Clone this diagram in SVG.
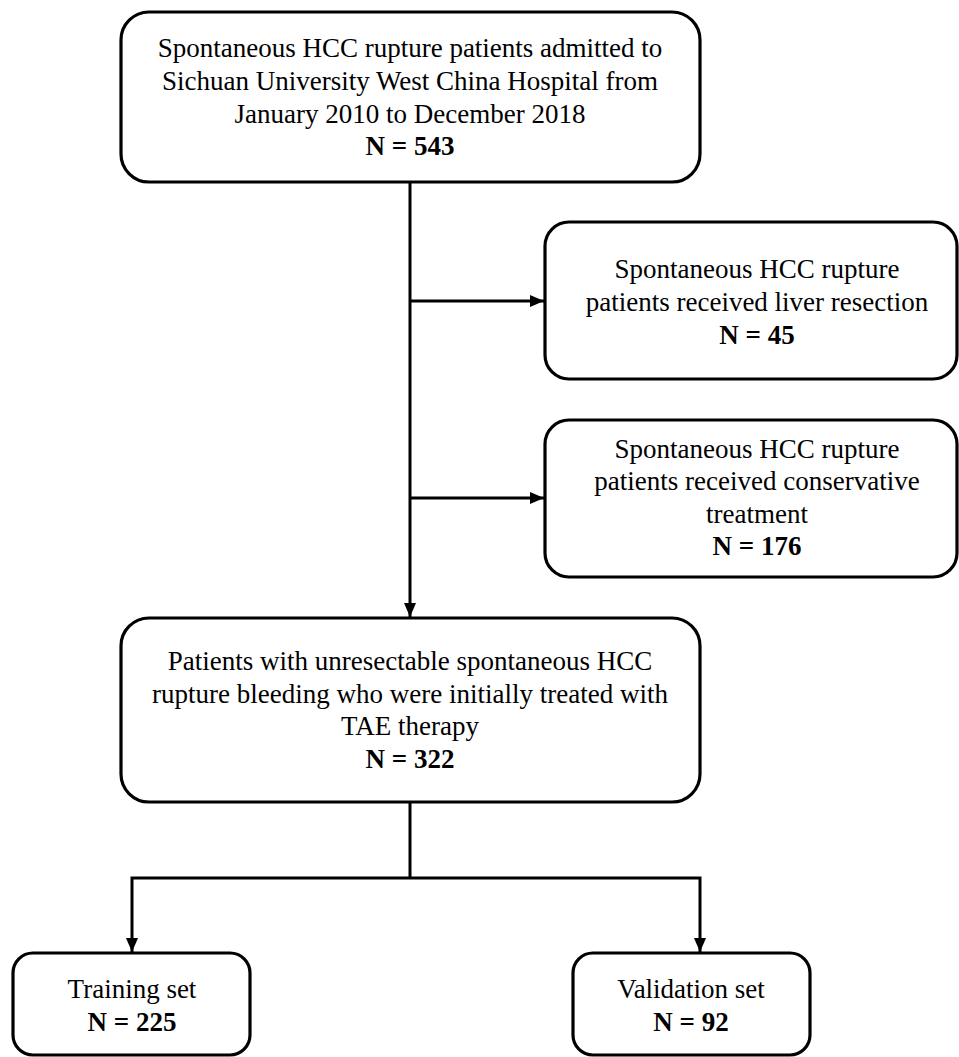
<svg xmlns="http://www.w3.org/2000/svg" width="959" height="1057" viewBox="0 0 959 1057">
<style>
.box{fill:#fff;stroke:#000;stroke-width:3.2}
.t{font-family:"Liberation Serif","Times New Roman",serif;font-size:27px;fill:#000;text-anchor:middle}
.b{font-weight:bold}
.ln{fill:none;stroke:#000;stroke-width:3}
</style>
<defs>
<marker id="ah" viewBox="0 0 14 12" refX="14" refY="6" markerWidth="14" markerHeight="12" markerUnits="userSpaceOnUse" orient="auto">
<path d="M0,0 L14,6 L0,12 Z" fill="#000"/>
</marker>
</defs>
<rect width="959" height="1057" fill="#fff"/>
<g id="connectors">
<line class="ln" x1="410" y1="182" x2="410" y2="617" marker-end="url(#ah)"/>
<line class="ln" x1="410" y1="301" x2="544" y2="301" marker-end="url(#ah)"/>
<line class="ln" x1="410" y1="498" x2="544" y2="498" marker-end="url(#ah)"/>
<line class="ln" x1="410" y1="802" x2="410" y2="878"/>
<polyline class="ln" points="410,878 132,878 132,952" marker-end="url(#ah)"/>
<polyline class="ln" points="410,878 700,878 700,952" marker-end="url(#ah)"/>
</g>
<g id="n1">
<rect class="box" x="121" y="12" width="579" height="170" rx="28"/>
<text class="t" x="410" y="57">Spontaneous HCC rupture patients admitted to</text>
<text class="t" x="410" y="90">Sichuan University West China Hospital from</text>
<text class="t" x="410" y="123">January 2010 to December 2018</text>
<text class="t b" x="410" y="155">N = 543</text>
</g>
<g id="n2">
<rect class="box" x="545" y="222" width="412" height="157" rx="24"/>
<text class="t" x="757" y="278">Spontaneous HCC rupture</text>
<text class="t" x="757" y="311">patients received liver resection</text>
<text class="t b" x="757" y="344">N = 45</text>
</g>
<g id="n3">
<rect class="box" x="545" y="420" width="412" height="157" rx="24"/>
<text class="t" x="757" y="458">Spontaneous HCC rupture</text>
<text class="t" x="757" y="490">patients received conservative</text>
<text class="t" x="757" y="523">treatment</text>
<text class="t b" x="757" y="555">N = 176</text>
</g>
<g id="n4">
<rect class="box" x="121" y="618" width="579" height="184" rx="28"/>
<text class="t" x="410" y="670">Patients with unresectable spontaneous HCC</text>
<text class="t" x="410" y="703">rupture bleeding who were initially treated with</text>
<text class="t" x="410" y="735">TAE therapy</text>
<text class="t b" x="410" y="768">N = 322</text>
</g>
<g id="n5">
<rect class="box" x="13" y="953" width="237" height="102" rx="20"/>
<text class="t" x="132" y="998">Training set</text>
<text class="t b" x="132" y="1031">N = 225</text>
</g>
<g id="n6">
<rect class="box" x="573" y="953" width="237" height="102" rx="20"/>
<text class="t" x="691" y="998">Validation set</text>
<text class="t b" x="691" y="1031">N = 92</text>
</g>
</svg>
